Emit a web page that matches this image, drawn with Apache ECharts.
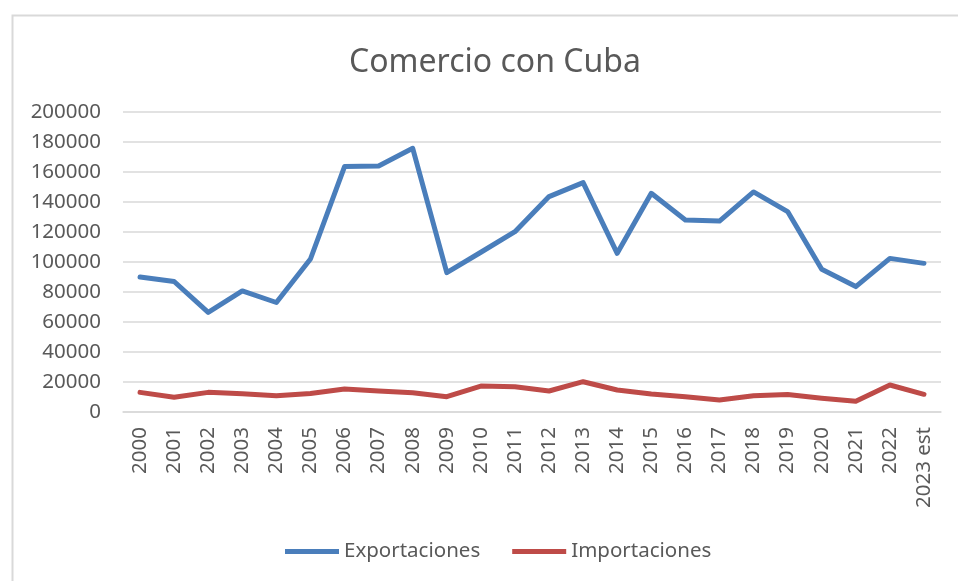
<!DOCTYPE html>
<html>
<head>
<meta charset="utf-8">
<script src="https://cdn.jsdelivr.net/npm/echarts@6/dist/echarts.min.js"></script>
<style>
  html, body { margin: 0; padding: 0; background: #fff; }
  #main { width: 958px; height: 581px; }
</style>
</head>
<body>
<div id="main"></div>
<script>
var years = ['2000', '2001', '2002', '2003', '2004', '2005', '2006', '2007', '2008', '2009',
    '2010', '2011', '2012', '2013', '2014', '2015', '2016', '2017', '2018', '2019',
    '2020', '2021', '2022', '2023 est'];
var exportaciones = [90000, 87000, 66400, 80700, 73000, 102000, 163600, 164000, 175800, 92900,
    106500, 120200, 143600, 152900, 105800, 145800, 128000, 127300, 146700, 133600,
    95100, 83600, 102400, 99100];
var importaciones = [13100, 9800, 13100, 12200, 10900, 12400, 15300, 14000, 12900, 10200,
    17300, 16900, 14000, 20200, 14700, 12000, 10200, 8000, 10900, 11600,
    9100, 7100, 18000, 11800];

var chartDom = document.getElementById('main');
var myChart = echarts.init(chartDom);
var option;

var gris = '#595959';
var fuente = 'Noto Sans';

option = {
    backgroundColor: '#fff',
    animation: false,
    title: {
        text: 'Comercio con Cuba',
        left: 344,
        top: 42,
        textStyle: { fontFamily: fuente, fontSize: 32, fontWeight: 'normal', color: gris }
    },
    // borde del área del gráfico (solo se ve arriba y a la izquierda)
    graphic: [{
        type: 'rect',
        left: 10, top: 13,
        shape: { width: 1000, height: 600 },
        style: { fill: 'none', stroke: '#d9d9d9', lineWidth: 2 },
        silent: true
    }],
    legend: {
        data: ['Exportaciones', 'Importaciones'],
        bottom: 14,
        left: 280,
        icon: 'rect',
        itemWidth: 54,
        itemHeight: 5,
        itemGap: 32,
        textStyle: { fontFamily: fuente, fontSize: 20.5, color: gris }
    },
    grid: {
        left: 123,
        right: 17,
        top: 112,
        bottom: 169
    },
    xAxis: {
        type: 'category',
        data: years,
        boundaryGap: true,
        axisLine: { lineStyle: { color: '#d9d9d9', width: 1.5 } },
        axisTick: { show: false },
        axisLabel: {
            rotate: 90,
            margin: 15,
            interval: 0,
            fontFamily: fuente,
            fontSize: 20.5,
            color: gris
        }
    },
    yAxis: {
        type: 'value',
        min: 0,
        max: 200000,
        interval: 20000,
        axisLine: { show: false },
        axisTick: { show: false },
        splitLine: { lineStyle: { color: '#d9d9d9', width: 1.5 } },
        axisLabel: {
            margin: 22,
            fontFamily: fuente,
            fontSize: 20.5,
            color: gris,
            formatter: function (v) { return String(v); }
        }
    },
    series: [
        {
            name: 'Exportaciones',
            type: 'line',
            data: exportaciones,
            showSymbol: false,
            symbol: 'none',
            itemStyle: { color: '#4a7ebb' },
            lineStyle: { color: '#4a7ebb', width: 5, cap: 'round', join: 'round' }
        },
        {
            name: 'Importaciones',
            type: 'line',
            data: importaciones,
            showSymbol: false,
            symbol: 'none',
            itemStyle: { color: '#be4b48' },
            lineStyle: { color: '#be4b48', width: 5, cap: 'round', join: 'round' }
        }
    ]
};

option && myChart.setOption(option);
</script>
</body>
</html>
